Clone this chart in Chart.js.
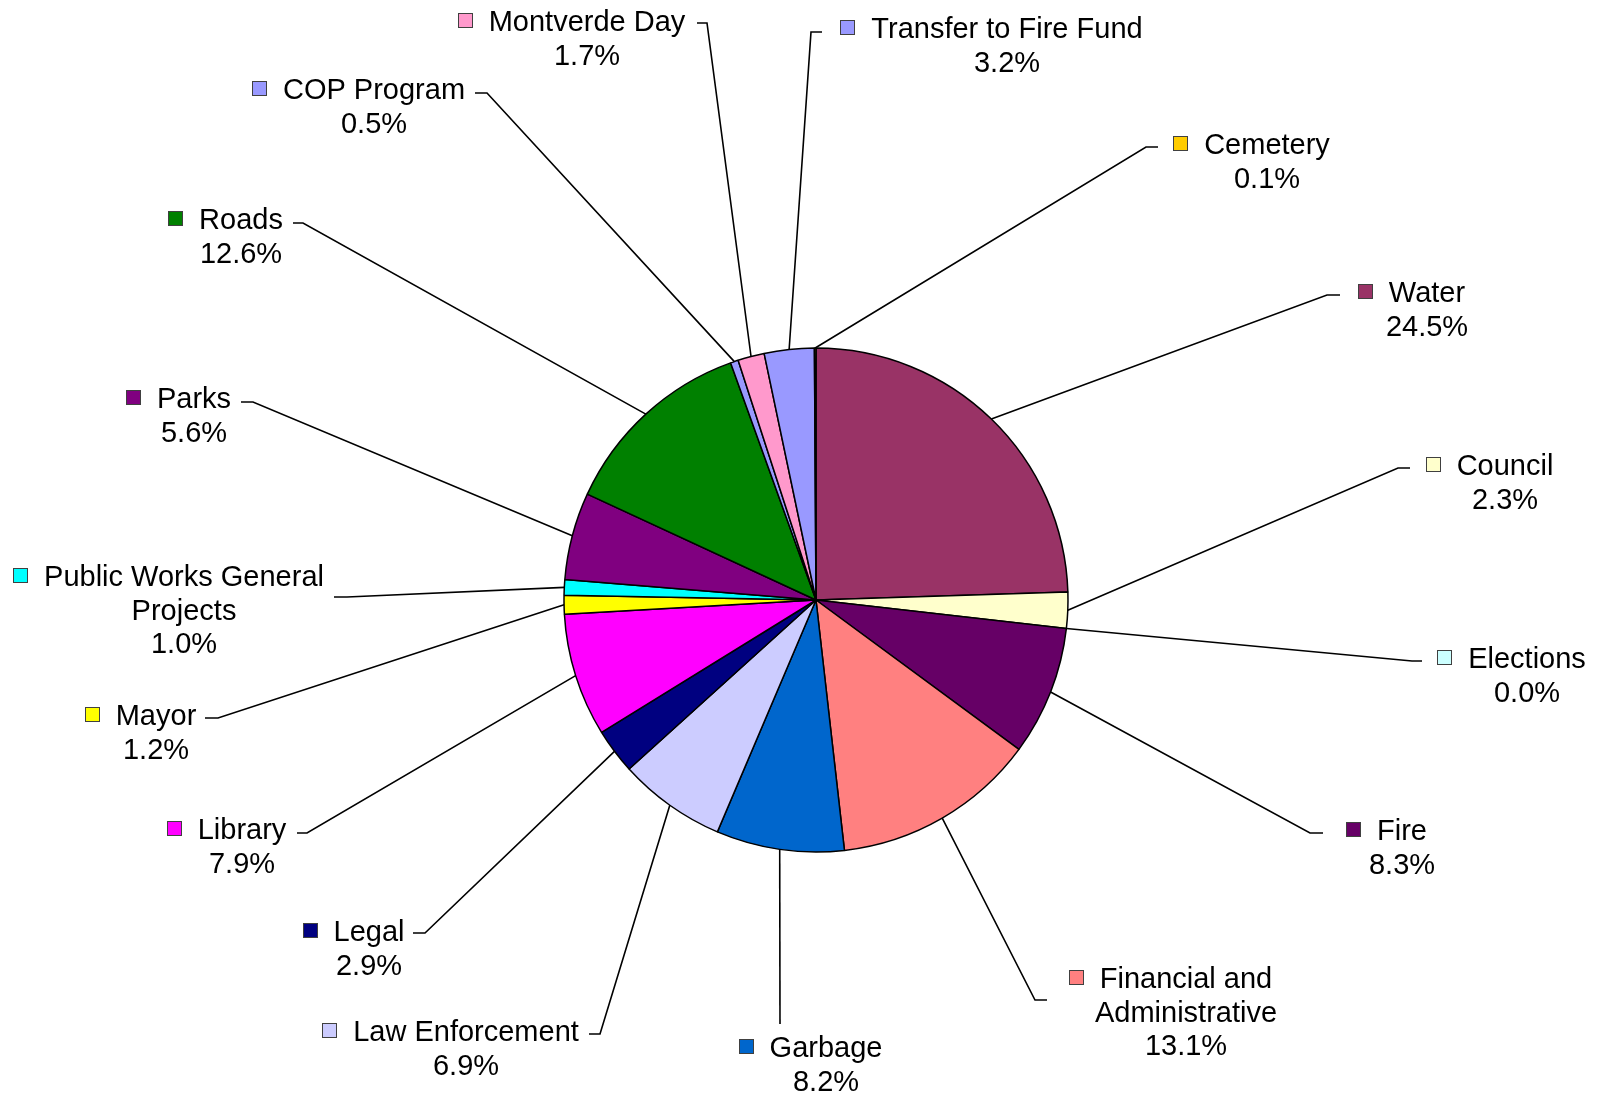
<!DOCTYPE html>
<html>
<head>
<meta charset="utf-8">
<script src="https://cdn.jsdelivr.net/npm/chart.js@4.4.1/dist/chart.umd.min.js"></script>
<style>
    html, body { margin: 0; padding: 0; background: #ffffff; }
    #wrap { width: 1600px; height: 1098px; position: relative; }
</style>
</head>
<body>
<div id="wrap"><canvas id="chart"></canvas></div>
<script>
// slices, clockwise from 12 o'clock
const categories = ['Water', 'Council', 'Elections', 'Fire', 'Financial and Administrative', 'Garbage',
    'Law Enforcement', 'Legal', 'Library', 'Mayor', 'Public Works General Projects', 'Parks', 'Roads',
    'COP Program', 'Montverde Day', 'Transfer to Fire Fund', 'Cemetery'];
const shares = [24.5, 2.3, 0.0, 8.3, 13.1, 8.2, 6.9, 2.9, 7.9, 1.2, 1.0, 5.6, 12.6, 0.5, 1.7, 3.2, 0.1];
const sliceColors = ['#993366', '#FFFFCC', '#CCFFFF', '#660066', '#FF8080', '#0066CC', '#CCCCFF', '#000080',
    '#FF00FF', '#FFFF00', '#00FFFF', '#800080', '#008000', '#9999FF', '#FF99CC', '#9999FF', '#FFCC00'];

// label placement: [text center x, first line middle y, elbow x, elbow y, tail x]
const labelLayout = [
    [1427, 292, 1327, 295, 1340],
    [1505, 465, 1398, 468, 1410],
    [1527, 658, 1412, 661, 1422],
    [1402, 830, 1310, 833, 1323],
    [1186, 978, 1035, 1000, 1047],
    [826, 1047, 780, 1024, 780],
    [466, 1031, 600, 1034, 589],
    [369, 931, 425, 933, 413],
    [242, 829, 307, 833, 297],
    [156, 715, 218, 718, 205],
    [184, 576, 347, 597, 334],
    [194, 398, 253, 402, 241],
    [241, 219, 303, 223, 293],
    [374, 89, 487, 93, 475],
    [587, 21, 707, 23, 697],
    [1007, 28, 811, 32, 822],
    [1267, 144, 1146, 147, 1158]
];

const FONT = '29px "Liberation Sans", Arial, sans-serif';
const LINE = 33.5;
const WRAP = 290;

function wrapText(ctx, text, maxWidth) {
    const words = text.split(' ');
    const lines = [];
    let cur = '';
    words.forEach(w => {
        const test = cur ? cur + ' ' + w : w;
        if (cur && ctx.measureText(test).width > maxWidth) {
            lines.push(cur);
            cur = w;
        } else {
            cur = test;
        }
    });
    if (cur) lines.push(cur);
    return lines;
}

const leaderLabels = {
    id: 'leaderLabels',
    afterDatasetsDraw(chart) {
        const ctx = chart.ctx;
        const meta = chart.getDatasetMeta(0);
        ctx.save();
        ctx.font = FONT;
        meta.data.forEach((arc, i) => {
            const { x, y, startAngle, endAngle, outerRadius } =
                arc.getProps(['x', 'y', 'startAngle', 'endAngle', 'outerRadius'], true);
            const mid = (startAngle + endAngle) / 2;
            const px = x + Math.cos(mid) * outerRadius;
            const py = y + Math.sin(mid) * outerRadius;
            const [cx, cy, ex, ey, tx] = labelLayout[i];

            // leader line
            ctx.strokeStyle = '#000000';
            ctx.lineWidth = 1.6;
            ctx.beginPath();
            ctx.moveTo(px, py);
            ctx.lineTo(ex, ey);
            ctx.lineTo(tx, ey);
            ctx.stroke();

            // text block
            const lines = wrapText(ctx, categories[i], WRAP);
            lines.push(shares[i].toFixed(1) + '%');
            ctx.fillStyle = '#000000';
            ctx.textAlign = 'center';
            ctx.textBaseline = 'alphabetic';
            lines.forEach((s, k) => ctx.fillText(s, cx, cy + k * LINE + 10.4));

            // legend key left of first line
            const w0 = ctx.measureText(lines[0]).width;
            const mx = Math.round(cx - w0 / 2 - 16 - 15);
            const my = Math.round(cy - 8.5);
            ctx.fillStyle = sliceColors[i];
            ctx.fillRect(mx, my, 15, 15);
            ctx.strokeStyle = '#404040';
            ctx.lineWidth = 1;
            ctx.strokeRect(mx + 0.5, my + 0.5, 14, 14);
        });
        ctx.restore();
    }
};

new Chart(document.getElementById('chart').getContext('2d'), {
    type: 'pie',
    data: {
        labels: categories,
        datasets: [{
            data: shares,
            backgroundColor: sliceColors,
            borderColor: '#000000',
            borderWidth: 1.5
        }]
    },
    options: {
        responsive: true,
        maintainAspectRatio: false,
        animation: false,
        radius: 252,
        layout: { padding: { left: 32, top: 102, right: 0, bottom: 0 } },
        plugins: {
            legend: { display: false },
            tooltip: { enabled: false },
            title: { display: false }
        }
    },
    plugins: [leaderLabels]
});
</script>
</body>
</html>
